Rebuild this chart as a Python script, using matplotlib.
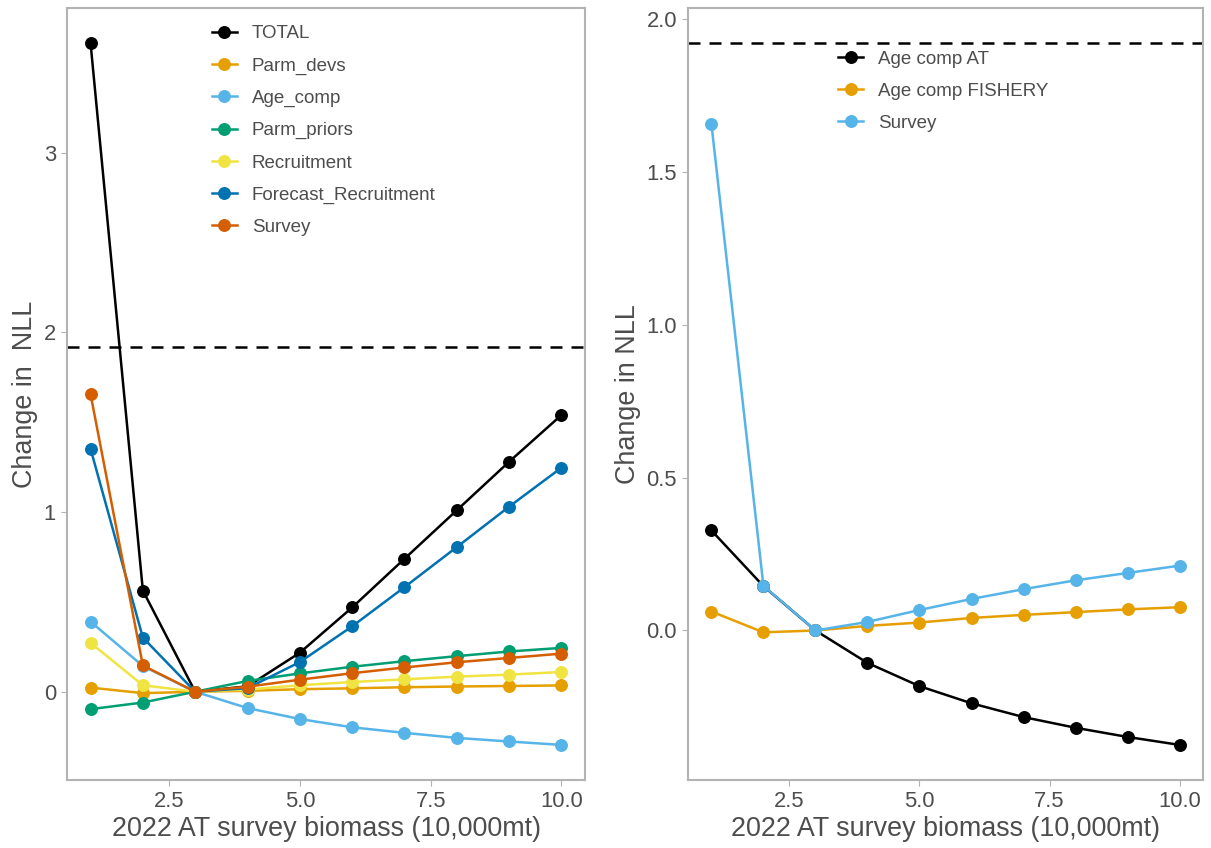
import numpy as np
import matplotlib
matplotlib.use('Agg')
import matplotlib.pyplot as plt

plt.rcParams['font.family'] = ['Liberation Sans', 'DejaVu Sans']

# survey biomass values (x axis)
biomass = [1, 2, 3, 4, 5, 6, 7, 8, 9, 10]

# left panel: likelihood components
total = [3.61, 0.563, 0.0, 0.03, 0.217, 0.469, 0.74, 1.01, 1.28, 1.54]
parm_devs = [0.023, -0.008, 0.0, 0.005, 0.014, 0.019, 0.025, 0.029, 0.032, 0.035]
age_comp = [0.390, 0.143, 0.0, -0.091, -0.152, -0.198, -0.229, -0.257, -0.277, -0.296]
parm_priors = [-0.097, -0.06, 0.0, 0.06, 0.102, 0.139, 0.17, 0.198, 0.224, 0.244]
recruitment = [0.272, 0.036, 0.0, 0.012, 0.036, 0.054, 0.069, 0.084, 0.095, 0.11]
forecast_rec = [1.352, 0.301, 0.0, 0.02, 0.165, 0.364, 0.582, 0.805, 1.03, 1.247]
survey = [1.656, 0.146, 0.0, 0.028, 0.067, 0.103, 0.135, 0.164, 0.188, 0.212]

# right panel: by fleet
age_comp_at = [0.327, 0.145, 0.0, -0.106, -0.182, -0.238, -0.283, -0.318, -0.348, -0.374]
age_comp_fishery = [0.062, -0.006, 0.0, 0.015, 0.026, 0.041, 0.051, 0.06, 0.069, 0.076]

left_names = ['TOTAL', 'Parm_devs', 'Age_comp', 'Parm_priors', 'Recruitment',
              'Forecast_Recruitment', 'Survey']
left_series = [total, parm_devs, age_comp, parm_priors, recruitment, forecast_rec, survey]
left_colors = ['#000000', '#E69F00', '#56B4E9', '#009E73', '#F0E442', '#0072B2', '#D55E00']

right_names = ['Age comp AT', 'Age comp FISHERY', 'Survey']
right_series = [age_comp_at, age_comp_fishery, survey]
right_colors = ['#000000', '#E69F00', '#56B4E9']

cutoff = 1.92

border = '#b3b3b3'
txt = '#4d4d4d'


def style_axes(ax):
    for s in ax.spines.values():
        s.set_color(border)
        s.set_linewidth(1.5)
    ax.tick_params(axis='both', colors=border, length=4, width=0.8,
                   labelcolor=txt, labelsize=15.8, pad=4)
    ax.set_xlabel('2022 AT survey biomass (10,000mt)', fontsize=19.4, color=txt, labelpad=3)
    ax.set_xticks([2.5, 5.0, 7.5, 10.0])
    ax.set_xticklabels(['2.5', '5.0', '7.5', '10.0'])
    ax.set_xlim(0.55, 10.45)


def draw(ax, names, series, colors):
    ax.axhline(cutoff, color='black', lw=1.8, dashes=(4.8, 3.6), zorder=1)
    for name, ys, col in zip(names, series, colors):
        ax.plot(biomass, ys, '-', color=col, lw=1.8, marker='o', ms=8.3, label=name)


def add_legend(ax, y_top):
    ax.legend(loc='upper left', bbox_to_anchor=y_top, frameon=False,
              fontsize=13.5, handlelength=1.33, handletextpad=0.8, labelspacing=0.8,
              borderpad=0, borderaxespad=0, labelcolor=txt)


fig = plt.figure(figsize=(12.11, 8.48), dpi=100)
ax1 = fig.add_axes([67/1211, 68/848, 518/1211, 772/848])
ax2 = fig.add_axes([688/1211, 68/848, 515/1211, 772/848])

# Left panel
draw(ax1, left_names, left_series, left_colors)
style_axes(ax1)
lo = min(min(s) for s in left_series)
hi = max(max(s) for s in left_series + [[cutoff]])
pad = 0.05 * (hi - lo)
ax1.set_ylim(lo - pad, hi + pad)
ax1.set_yticks([0, 1, 2, 3])
ax1.set_ylabel('Change in  NLL', fontsize=19.4, color=txt, labelpad=4)
add_legend(ax1, (0.2793, 0.9775))

# Right panel
draw(ax2, right_names, right_series, right_colors)
style_axes(ax2)
lo = min(min(s) for s in right_series)
hi = max(max(s) for s in right_series + [[cutoff]])
pad = 0.05 * (hi - lo)
ax2.set_ylim(lo - pad, hi + pad)
ax2.set_yticks([0.0, 0.5, 1.0, 1.5, 2.0])
ax2.set_yticklabels(['0.0', '0.5', '1.0', '1.5', '2.0'])
ax2.set_ylabel('Change in NLL', fontsize=19.4, color=txt, labelpad=4)
add_legend(ax2, (0.2918, 0.945))

fig.savefig('out.png', dpi=100)
